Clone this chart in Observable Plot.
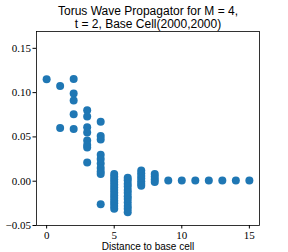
<!DOCTYPE html>
<html>
<head>
<meta charset="utf-8">
<script src="https://cdn.jsdelivr.net/npm/d3@7"></script>
<script src="https://cdn.jsdelivr.net/npm/@observablehq/plot@0.6"></script>
<style>
  html, body { margin: 0; padding: 0; background: #fff; }
  #chart svg { display: block; }
</style>
</head>
<body>
<div id="chart"></div>
<script>
const titleLines = ["Torus Wave Propagator for M = 4,", "t = 2, Base Cell(2000,2000)"];
const xLabel = "Distance to base cell";
const xTicks = [0, 5, 10, 15];
const yTicks = [-0.05, 0.00, 0.05, 0.10, 0.15];

const distances = [
  0,
  1, 1,
  2, 2, 2, 2, 2,
  3, 3, 3, 3, 3, 3, 3, 3,
  4, 4, 4, 4, 4, 4, 4, 4, 4, 4,
  5, 5, 5, 5, 5, 5, 5, 5, 5, 5, 5, 5, 5, 5,
  6, 6, 6, 6, 6, 6, 6, 6, 6, 6, 6, 6,
  7, 7, 7, 7, 7, 7, 7,
  8, 8, 8, 8,
  9, 10, 11, 12, 13, 14, 15
];
const values = [
  0.115,
  0.1075, 0.060,
  0.1155, 0.099, 0.091, 0.0755, 0.059,
  0.080, 0.073, 0.061, 0.055, 0.046, 0.041, 0.038, 0.021,
  0.067, 0.051, 0.047, 0.030, 0.025, 0.020, 0.015, 0.011, 0.008, -0.026,
  0.008, 0.005, 0.002, -0.001, -0.004, -0.007, -0.010, -0.013, -0.016, -0.019, -0.022, -0.025, -0.028, -0.031,
  0.004, 0.001, -0.003, -0.006, -0.010, -0.013, -0.017, -0.020, -0.024, -0.028, -0.031, -0.035,
  0.012, 0.009, 0.006, 0.003, 0.000, -0.003, -0.005,
  0.008, 0.005, 0.002, -0.001,
  0.0008, 0.0008, 0.0008, 0.0008, 0.0008, 0.0008, 0.0008
];
const points = distances.map((d, i) => ({d, v: values[i]}));

const serif = "'Liberation Serif', 'DejaVu Serif', serif";
const sans = "'Liberation Sans', 'DejaVu Sans', sans-serif";

const chart = Plot.plot({
  width: 288,
  height: 252,
  marginLeft: 36,
  marginRight: 29,
  marginTop: 31,
  marginBottom: 27,
  style: {fontFamily: serif, fontSize: "11px", color: "#000", background: "#fff"},
  x: {domain: [-0.75, 15.75]},
  y: {domain: [-0.05, 0.169]},
  marks: [
    Plot.dot(points, {x: "d", y: "v", r: 4, fill: "#1f77b4", stroke: "none"}),
    Plot.frame({stroke: "#000", strokeWidth: 0.8}),
    Plot.axisX({ticks: xTicks, tickFormat: d3.format("d"), tickSize: 3.5, tickPadding: 2, label: null, fontFamily: serif, fontSize: 11}),
    Plot.axisY({ticks: yTicks, tickFormat: d3.format(".2f"), tickSize: 3.5, tickPadding: 2, label: null, fontFamily: serif, fontSize: 11}),
    Plot.text([xLabel], {frameAnchor: "bottom", lineAnchor: "middle", dy: 21, fontFamily: sans, fontSize: 10, fill: "#000"}),
    Plot.text([titleLines[0]], {frameAnchor: "top", lineAnchor: "middle", dy: -20, fontFamily: sans, fontSize: 12, fill: "#000"}),
    Plot.text([titleLines[1]], {frameAnchor: "top", lineAnchor: "middle", dy: -7, fontFamily: sans, fontSize: 12, fill: "#000"})
  ]
});
document.getElementById("chart").appendChild(chart);
</script>
</body>
</html>
